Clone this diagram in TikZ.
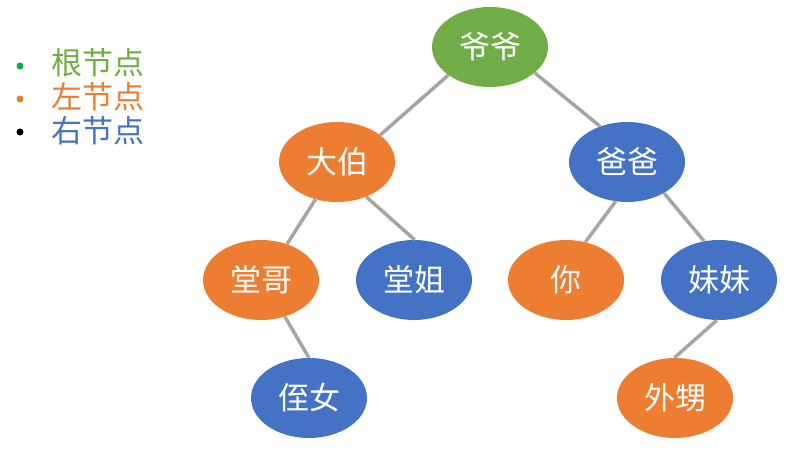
\documentclass[tikz,border=0pt]{standalone}
\usepackage{fontspec}
\usepackage{xcolor}
\usepackage{tikz}
\usetikzlibrary{shapes.geometric}
\newfontfamily\cjk{Noto Sans CJK SC}
\definecolor{rootgreen}{HTML}{70AD47}
\definecolor{leftorange}{HTML}{ED7D31}
\definecolor{rightblue}{HTML}{4472C4}
\definecolor{edgegray}{HTML}{A5A5A5}
\definecolor{dotgreen}{HTML}{00B050}
\tikzset{
  treenode/.style={ellipse, minimum width=116pt, minimum height=80pt, inner sep=0pt,
    text=white, font=\cjk\fontsize{31}{34}\selectfont},
  rootnode/.style={treenode, fill=rootgreen},
  leftnode/.style={treenode, fill=leftorange},
  rightnode/.style={treenode, fill=rightblue},
  branch/.style={draw=edgegray, line width=3.5pt},
  legendtext/.style={anchor=west, inner sep=0pt, font=\cjk\fontsize{31}{34}\selectfont}
}

\begin{document}
\begin{tikzpicture}[x=1pt,y=-1pt]
            \useasboundingbox (0,0) rectangle (789,456);
            % legend
            \fill[dotgreen] (20,66) circle (3.5pt);
            \fill[leftorange] (20,99) circle (3.5pt);
            \fill[black] (20,132) circle (3.5pt);
            \node[legendtext, text=rootgreen] at (51,63) (lgroot) {根节点};
            \node[legendtext, text=leftorange] at (51,97) (lgleft) {左节点};
            \node[legendtext, text=rightblue] at (51,131) (lgright) {右节点};
            % tree
            \node[rootnode] at (490,47) (yeye) {爷爷};
            \node[leftnode] at (337,162) (dabo) {大伯};
            \node[rightnode] at (627,162) (baba) {爸爸};
            \node[leftnode] at (261,280) (tangge) {堂哥};
            \node[rightnode] at (414,280) (tangjie) {堂姐};
            \node[leftnode] at (566,280) (ni) {你};
            \node[rightnode] at (719,280) (meimei) {妹妹};
            \node[rightnode] at (309,398) (zhinv) {侄女};
            \node[leftnode] at (675,398) (waisheng) {外甥};
            \draw[branch] (yeye.214) -- (dabo.32);
            \draw[branch] (yeye.330) -- (baba.127);
            \draw[branch] (dabo.240) -- (tangge.54);
            \draw[branch] (dabo.310) -- (tangjie.89);
            \draw[branch] (baba.254) -- (ni.63);
            \draw[branch] (baba.320) -- (meimei.111);
            \draw[branch] (tangge.303) -- (zhinv.90);
            \draw[branch] (meimei.267) -- (waisheng.91);
        \end{tikzpicture}
\end{document}
